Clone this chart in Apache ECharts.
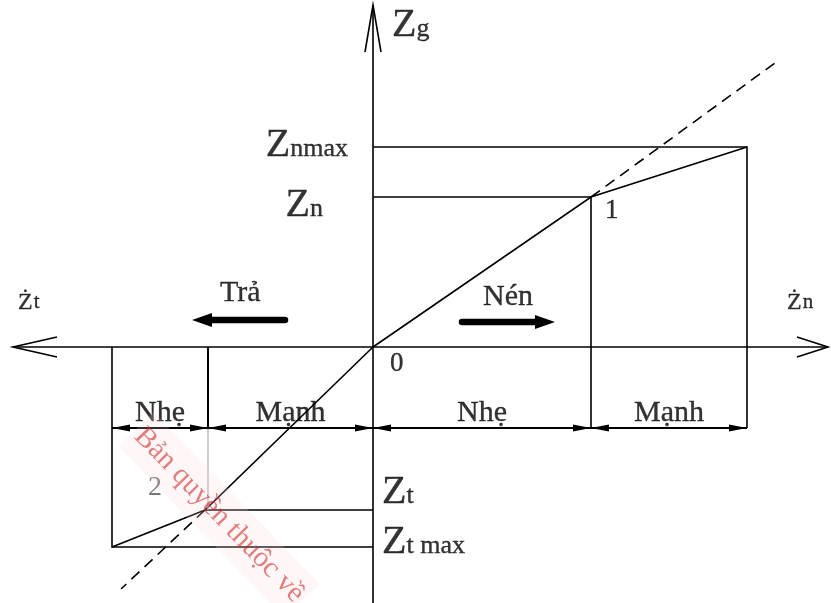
<!DOCTYPE html>
<html>
<head>
<meta charset="utf-8">
<script src="https://cdn.jsdelivr.net/npm/echarts@6/dist/echarts.min.js"></script>
<style>
  html, body { margin: 0; background: #fff; }
  #main { width: 831px; height: 603px; }
</style>
</head>
<body>
<div id="main"></div>
<script>
// units: 1 = 1px from origin 0, y pointing up
const compression = [[0, 0], [218, 150], [374, 200]];     // 0 -> 1 -> Znmax
const rebound = [[0, 0], [-168, -163], [-261, -200]];     // 0 -> 2 -> Ztmax
const dashUpper = [[218, 150], [402, 284]];
const dashLower = [[-168, -163], [-252, -242]];
const dimTicks = [-261, -165, 0, 218, 374];
const dimNames = ['Nhẹ', 'Mạnh', 'Nhẹ', 'Mạnh'];
const dimY = -81;
const boldArrows = [[-88, 27, -181, 27], [89, 25, 182, 25]];   // Trả, Nén
const xEnds = [-360, 455];
const yEnds = [-256, 342];

const font = 'Liberation Serif';
const black = '#000';

// straight segments
const segs = [];
function seg(coords, opt) {
  segs.push({ coords: coords, lineStyle: Object.assign({ color: black, width: 1.6, type: 'solid', opacity: 1 }, opt || {}) });
}
// axes with open arrow heads
seg([[xEnds[0], 0], [xEnds[1], 0]]);
seg([[xEnds[0] + 44, 10], [xEnds[0], 0], [xEnds[0] + 44, -10]]);
seg([[xEnds[1] - 31, 10], [xEnds[1], 0], [xEnds[1] - 31, -10]]);
seg([[0, yEnds[0]], [0, yEnds[1]]]);
seg([[-8, yEnds[1] - 47], [0, yEnds[1]], [8, yEnds[1] - 47]]);
// characteristic
seg(compression);
seg(rebound);
seg(dashUpper, { type: [11, 7] });
seg(dashLower, { type: [11, 7] });
// helper lines
seg([[0, compression[2][1]], compression[2], [compression[2][0], dimY]]);
seg([[0, compression[1][1]], compression[1], [compression[1][0], dimY]]);
seg([[0, rebound[1][1]], rebound[1]]);
seg([[0, rebound[2][1]], rebound[2], [rebound[2][0], 0]]);
seg([[dimTicks[1], 0], [dimTicks[1], dimY]], { width: 2 });
seg([[dimTicks[1], dimY], [dimTicks[1], rebound[1][1]]], { color: '#aaa', width: 1.2 });

const arrows = [];
for (let i = 0; i < dimTicks.length - 1; i++) arrows.push([dimTicks[i], dimY, dimTicks[i + 1], dimY, 0]);
boldArrows.forEach(a => arrows.push(a.concat([1])));

// text labels: [text, x, y, align]
const labels = [
  ['{z|Z}{s|g}', 19, 322, 'left'],
  ['{z|Z}{s|nmax}', -25, 202, 'right'],
  ['{z|Z}{s|n}', -50, 142, 'right'],
  ['{z|Z}{s|t}', 9, -145, 'left'],
  ['{z|Z}{s|t max}', 9, -195, 'left'],
  ['{d|Ż}{e|t}', -355, 45, 'left'],
  ['{d|Ż}{e|n}', 414, 45, 'left'],
  ['{m|Trả}', -153, 54, 'left'],
  ['{m|Nén}', 110, 50, 'left'],
  ['{n|0}', 17, -17, 'left'],
  ['{n|1}', 232, 136, 'left'],
  ['{g|2}', -225, -141, 'left']
];
for (let i = 0; i < dimNames.length; i++) {
  labels.push(['{m|' + dimNames[i] + '}', (dimTicks[i] + dimTicks[i + 1]) / 2, dimY + 15, 'center']);
}

const ink = { color: black, textBorderColor: black, textBorderWidth: 0.35 };
const rich = {
  z: Object.assign({ fontFamily: font, fontSize: 40, lineHeight: 40, verticalAlign: 'bottom' }, ink),
  s: Object.assign({ fontFamily: font, fontSize: 26, lineHeight: 26, verticalAlign: 'bottom', padding: [0, 0, 3, 0] }, ink),
  d: Object.assign({ fontFamily: font, fontSize: 24, lineHeight: 26, verticalAlign: 'bottom' }, ink),
  e: Object.assign({ fontFamily: font, fontSize: 21, lineHeight: 20, verticalAlign: 'bottom', padding: [0, 0, 2, 1] }, ink),
  m: Object.assign({ fontFamily: font, fontSize: 30 }, ink),
  n: Object.assign({ fontFamily: font, fontSize: 27 }, ink),
  g: { fontFamily: font, fontSize: 28, color: '#555' }
};

function renderArrow(params, api) {
  const a = api.coord([api.value(0), api.value(1)]);
  const b = api.coord([api.value(2), api.value(3)]);
  const bold = api.value(4) === 1;
  const dx = b[0] - a[0], dy = b[1] - a[1], len = Math.hypot(dx, dy);
  const ux = dx / len, uy = dy / len, px = -uy, py = ux;
  function head(tip, dir, L, W) {
    const bx = tip[0] - dir * ux * L, by = tip[1] - dir * uy * L;
    return { type: 'polygon', shape: { points: [tip, [bx + px * W, by + py * W], [bx - px * W, by - py * W]] }, style: { fill: black } };
  }
  if (bold) {
    return { type: 'group', children: [
      { type: 'line', shape: { x1: a[0], y1: a[1], x2: b[0] - ux * 14, y2: b[1] - uy * 14 }, style: { stroke: black, lineWidth: 6.5, lineCap: 'round' } },
      head(b, 1, 20, 7)
    ] };
  }
  return { type: 'group', children: [
    { type: 'line', shape: { x1: a[0], y1: a[1], x2: b[0], y2: b[1] }, style: { stroke: black, lineWidth: 1.8 } },
    head(b, 1, 18, 3.5),
    head(a, -1, 18, 3.5)
  ] };
}

const chart = echarts.init(document.getElementById('main'));
chart.setOption({
  backgroundColor: '#fff',
  animation: false,
  grid: { left: 0, right: 0, top: 0, bottom: 0 },
  xAxis: { type: 'value', min: -373, max: 458, show: false },
  yAxis: { type: 'value', min: -256, max: 347, show: false },
  series: [
    {
      type: 'lines',
      coordinateSystem: 'cartesian2d',
      polyline: true,
      silent: true,
      lineStyle: { opacity: 1 },
      data: segs
    },
    {
      type: 'custom',
      renderItem: renderArrow,
      encode: { x: [0, 2], y: [1, 3] },
      data: arrows
    },
    {
      type: 'scatter',
      symbolSize: 1,
      itemStyle: { color: 'rgba(0,0,0,0)' },
      silent: true,
      data: labels.map(l => ({
        value: [l[1], l[2]],
        label: { show: true, position: 'inside', formatter: l[0], align: l[3], verticalAlign: 'middle', color: black, rich: rich }
      })).concat([{
        value: [-237, -82],
        label: {
          show: true, position: 'inside', formatter: 'Bản quyền thuộc về',
          align: 'left', verticalAlign: 'middle', rotate: -46,
          fontFamily: font, fontSize: 29, color: 'rgba(205,35,35,0.72)',
          backgroundColor: 'rgba(255,215,215,0.25)', padding: [10, 4]
        }
      }])
    }
  ]
});
</script>
</body>
</html>
